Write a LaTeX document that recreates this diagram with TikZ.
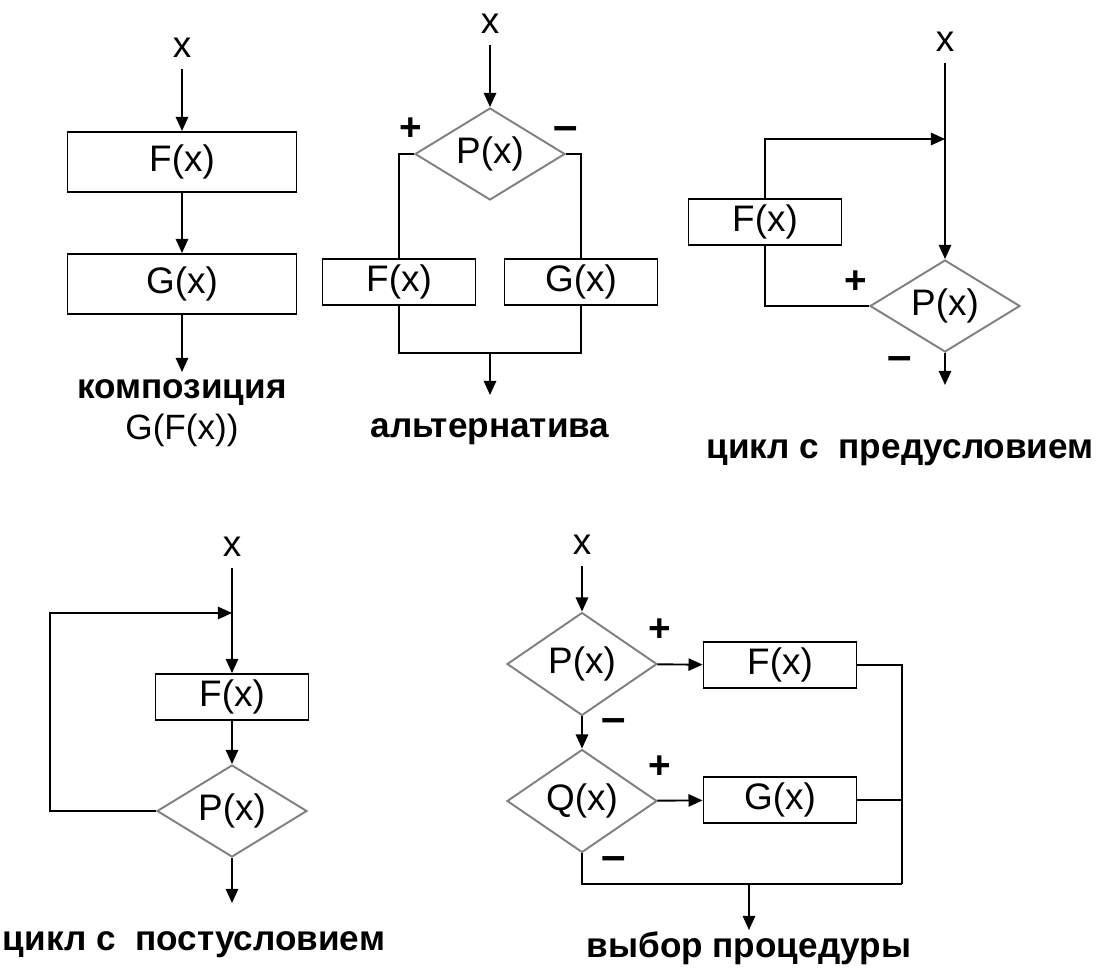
\documentclass[tikz,border=0pt]{standalone}
\usepackage{fontspec}
\setmainfont{Liberation Sans}
\usepackage{tikz}
\usetikzlibrary{arrows.meta,shapes.geometric,positioning}

\tikzset{
  arr/.style={-{Triangle[length=8pt,width=7pt]}},
  box/.style={draw, minimum width=3.06cm, minimum height=0.92cm, inner sep=0pt},
  bigbox/.style={box, minimum width=4.58cm, minimum height=1.2cm},
  cond/.style={diamond, draw=black!50, aspect=1.6, inner sep=0pt,
    minimum width=3cm, minimum height=1.84cm},
  tallcond/.style={cond, minimum height=2.06cm},
  lbl/.style={inner sep=6pt},
  sign/.style={inner sep=0pt, font=\fontsize{22pt}{24pt}\selectfont\bfseries},
  minus/.style={inner sep=0pt, font=\fontsize{25pt}{27pt}\selectfont\bfseries},
  captxt/.style={inner sep=0pt, align=center, font=\fontsize{20pt}{23pt}\selectfont\bfseries}
}

\begin{document}
\begin{tikzpicture}[x=0.02cm, y=-0.02cm, line width=1.1pt,
    font=\fontsize{21pt}{24pt}\selectfont]
\useasboundingbox (0,0) rectangle (1101,969);

% composition
\node[lbl] (x1) at (182,48) {x};
\node[bigbox] (F1) at (182,162) {F(x)};
\node[bigbox] (G1) at (182,284) {G(x)};
\coordinate (o1) at (182,372);
\node[captxt] (c1) at (182,413) {композиция\\\mdseries G(F(x))};
\draw[arr] (x1) -- (F1);
\draw[arr] (F1) -- (G1);
\draw[arr] (G1) -- (o1);

% alternative
\node[lbl] (x2) at (490,24) {x};
\node[cond] (P2) at (490,154) {P(x)};
\node[box] (F2) at (399,282) {F(x)};
\node[box] (G2) at (581,282) {G(x)};
\coordinate (m2) at (490,353);
\coordinate (o2) at (490,395);
\node[captxt] (c2) at (490,432) {альтернатива};
\node[sign] (p2) at (411,129) {+};
\node[minus] (n2) at (566,134) {–};
\draw[arr] (x2) -- (P2);
\draw (P2.west) -| (F2.north);
\draw (P2.east) -| (G2.north);
\draw (F2.south) |- (m2) -| (G2.south);
\draw[arr] (m2) -- (o2);

% loop with precondition
\node[lbl] (x3) at (945,42) {x};
\coordinate (j3) at (945,139);
\node[box] (F3) at (765,222) {F(x)};
\node[cond] (P3) at (945,306) {P(x)};
\coordinate (o3) at (945,385);
\node[captxt] (c3) at (900,453) {цикл с\ \ предусловием};
\node[sign] (p3) at (856,282) {+};
\node[minus] (n3) at (900,364) {–};
\draw[arr] (x3) -- (P3);
\draw[arr] (F3.north) |- (j3);
\draw (F3.south) |- (P3.west);
\draw[arr] (P3) -- (o3);

% loop with postcondition
\node[lbl] (x4) at (232,547) {x};
\coordinate (j4) at (232,613);
\coordinate (k4) at (50,613);
\node[box] (F4) at (232,697) {F(x)};
\node[cond] (P4) at (232,811) {P(x)};
\coordinate (o4) at (232,903);
\node[captxt] (c4) at (194,945) {цикл с\ \ постусловием};
\draw[arr] (x4) -- (F4);
\draw[arr] (P4.west) -| (k4) -- (j4);
\draw[arr] (F4) -- (P4);
\draw[arr] (P4) -- (o4);

% choice of procedure
\node[lbl] (x5) at (582,545) {x};
\node[tallcond] (P5) at (582,664) {P(x)};
\node[tallcond] (Q5) at (582,801) {Q(x)};
\node[box] (F5) at (780,665) {F(x)};
\node[box] (G5) at (780,800) {G(x)};
\coordinate (r5) at (902,884);
\coordinate (m5) at (749,884);
\coordinate (o5) at (749,930);
\node[captxt] (c5) at (749,948) {выбор процедуры};
\node[sign] (p5) at (660,630) {+};
\node[minus] (n5) at (614,726) {–};
\node[sign] (q5) at (660,767) {+};
\node[minus] (s5) at (614,864) {–};
\draw[arr] (x5) -- (P5);
\draw[arr] (P5) -- (Q5);
\draw[arr] (P5) -- (F5);
\draw[arr] (Q5) -- (G5);
\draw (F5.east) -| (r5);
\draw (G5.east) -- (G5.east -| r5);
\draw (Q5.south) |- (r5);
\draw[arr] (m5) -- (o5);
\end{tikzpicture}
\end{document}
